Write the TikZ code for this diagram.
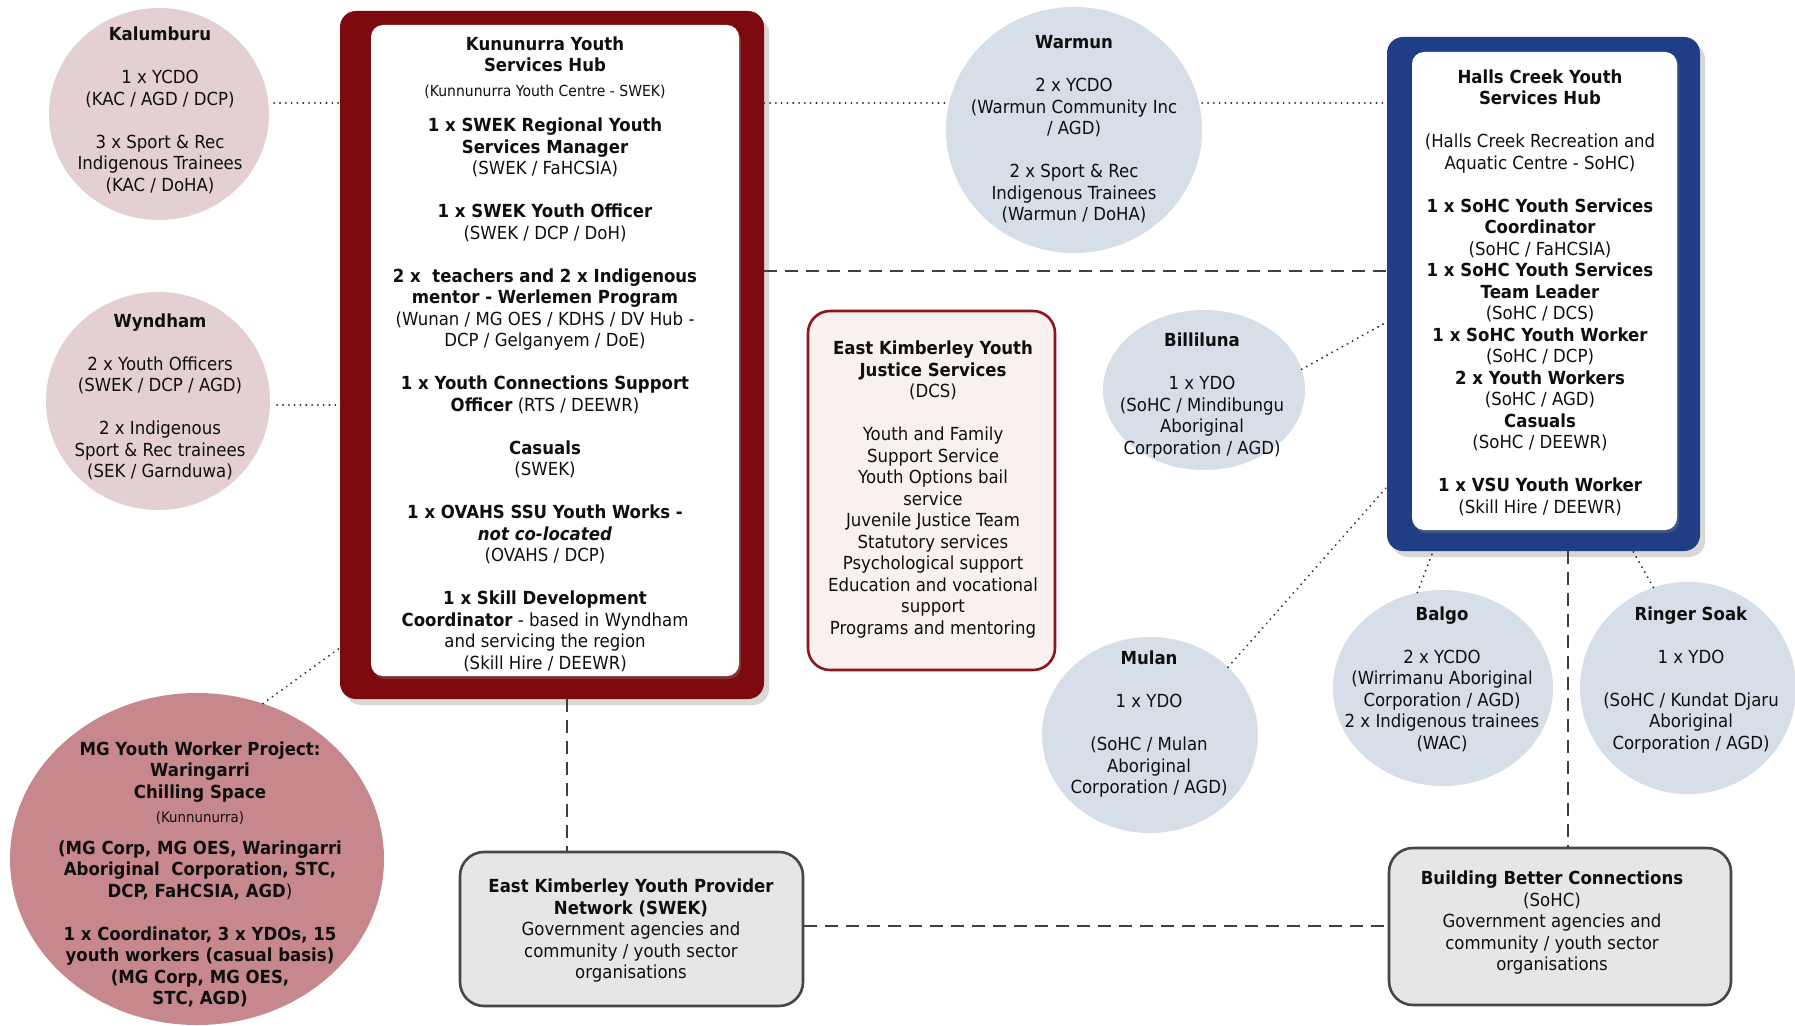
\documentclass[tikz,border=0pt]{standalone}
\usepackage{fontspec}
\setmainfont{DejaVu Sans}[FakeStretch=0.92]
\usetikzlibrary{shapes.geometric,shadows,calc}
\definecolor{kred}{RGB}{125,10,15}
\definecolor{kblue}{RGB}{31,62,133}
\definecolor{pinkell}{RGB}{228,208,210}
\definecolor{mgell}{RGB}{198,136,140}
\definecolor{blueell}{RGB}{214,222,231}
\definecolor{jusfill}{RGB}{249,240,240}
\definecolor{jusedge}{RGB}{140,22,28}
\definecolor{boxgray}{RGB}{230,230,230}
\definecolor{boxedge}{RGB}{70,70,70}
\definecolor{txtcol}{RGB}{15,15,15}
\tikzset{
  txt/.style={align=center, inner sep=0pt, anchor=north, text=txtcol,
    font=\fontsize{18}{21.5}\selectfont},
  ell/.style={ellipse, inner sep=0pt, draw=none},
  dotline/.style={line width=2.1pt, dash pattern=on 0.01pt off 5.8pt, line cap=round, draw=black!85},
  dashline/.style={line width=1.6pt, dash pattern=on 13pt off 8pt, draw=black!75},
  hubout/.style={rectangle, rounded corners=16pt, inner sep=0pt,
    drop shadow={shadow xshift=5pt, shadow yshift=-6pt, opacity=0.3}},
  hubin/.style={rectangle, rounded corners=12pt, inner sep=0pt, fill=white,
    drop shadow={shadow xshift=2pt, shadow yshift=-3pt, opacity=0.35}},
  graybox/.style={rectangle, rounded corners=24pt, inner sep=0pt, fill=boxgray, draw=boxedge, line width=2.6pt},
}
\begin{document}
\begin{tikzpicture}[x=1pt,y=-1pt]
\useasboundingbox[fill=white] (0,0) rectangle (1795,1025);

% ---------- shapes ----------
\node[hubout, fill=kred, minimum width=424pt, minimum height=688pt] (kunout) at (552,355) {};
\node[hubin, minimum width=368pt, minimum height=651pt] (kunin) at (555,350.5) {};
\node[hubout, fill=kblue, minimum width=313pt, minimum height=514pt] (hcout) at (1543.5,294) {};
\node[hubin, minimum width=265pt, minimum height=478pt] (hcin) at (1544.5,291) {};
\node[rectangle, rounded corners=22pt, inner sep=0pt, fill=jusfill, draw=jusedge, line width=2.6pt,
  minimum width=247pt, minimum height=359pt] (jus) at (931.5,490.5) {};
\node[graybox, minimum width=343pt, minimum height=154pt] (swek) at (631.5,929) {};
\node[graybox, minimum width=342pt, minimum height=157pt] (bbc) at (1560,926.5) {};

\node[ell, fill=pinkell, minimum width=220pt, minimum height=212pt] (kal) at (159,114) {};
\node[ell, fill=pinkell, minimum width=224pt, minimum height=218pt] (wyn) at (158,401) {};
\node[ell, fill=mgell, minimum width=374pt, minimum height=332pt] (mg) at (197,859) {};
\node[ell, fill=blueell, minimum width=256pt, minimum height=246pt] (war) at (1074,130) {};
\node[ell, fill=blueell, minimum width=202pt, minimum height=160pt] (bil) at (1204,390) {};
\node[ell, fill=blueell, minimum width=216pt, minimum height=196pt] (mul) at (1150,735) {};
\node[ell, fill=blueell, minimum width=220pt, minimum height=196pt] (bal) at (1443,688) {};
\node[ell, fill=blueell, minimum width=216pt, minimum height=212pt] (rin) at (1688,688) {};

% ---------- connectors ----------
\draw[dotline] ([xshift=5pt]kal.east |- 0,103) -- (kunout.west |- 0,103);
\draw[dotline] (kunout.east |- 0,103) -- (war.west |- 0,103);
\draw[dotline] (war.east |- 0,103) -- (hcout.west |- 0,103);
\draw[dotline] ([xshift=7pt]wyn.east |- 0,405) -- (kunout.west |- 0,405);
\draw[dotline] (mg.67) -- (kunout.west |- 0,648);
\draw[dashline] (kunout.east |- 0,271) -- (hcout.west |- 0,271);
\draw[dotline] (bil.12) -- (hcout.west |- 0,322);
\draw[dotline] (mul.41) -- (hcout.west |- 0,487);
\draw[dotline] (bal.105) -- (hcout.south -| 1433,0);
\draw[dotline] (rin.109) -- (hcout.south -| 1633,0);
\draw[dashline] (hcout.south -| 1568,0) -- (bbc.north -| 1568,0);
\draw[dashline] (kunout.south -| 567,0) -- (swek.north -| 567,0);
\draw[dashline] (swek.east |- 0,926) -- (bbc.west |- 0,926);

% ---------- texts ----------
\node[txt] (kalT) at (160,27) {\textbf{Kalumburu}\\[21.5pt]1 x YCDO\\(KAC / AGD / DCP)\\[21.5pt]3 x Sport \& Rec\\Indigenous Trainees\\(KAC / DoHA)};

\node[txt] (wynT) at (160,313.5) {\textbf{Wyndham}\\[21.5pt]2 x Youth Officers\\(SWEK / DCP / AGD)\\[21.5pt]2 x Indigenous\\Sport \& Rec trainees\\(SEK / Garnduwa)};

\node[txt] (mgT) at (200,741.5) {\textbf{MG Youth Worker Project:}\\\textbf{Waringarri}\\\textbf{Chilling Space}\\[2.5pt]{\fontsize{14.5}{21.5}\selectfont (Kunnunurra)}\\[10.5pt]\textbf{(MG Corp, MG OES, Waringarri}\\\textbf{Aboriginal~ Corporation, STC,}\\\textbf{DCP, FaHCSIA, AGD})\\[21.5pt]\textbf{1 x Coordinator, 3 x YDOs, 15}\\\textbf{youth workers (casual basis)}\\\textbf{(MG Corp, MG OES,}\\\textbf{STC, AGD)}};

\node[txt] (kunT) at (545,36.5) {\textbf{Kununurra Youth}\\\textbf{Services Hub}\\[3.5pt]{\fontsize{15.2}{21.5}\selectfont (Kunnunurra Youth Centre - SWEK)}\\[13.5pt]\textbf{1 x SWEK Regional Youth}\\\textbf{Services Manager}\\(SWEK / FaHCSIA)\\[21.5pt]\textbf{1 x SWEK Youth Officer}\\(SWEK / DCP / DoH)\\[21.5pt]\textbf{2 x~ teachers and 2 x Indigenous}\\\textbf{mentor - Werlemen Program}\\(Wunan / MG OES / KDHS / DV Hub -\\DCP / Gelganyem / DoE)\\[21.5pt]\textbf{1 x Youth Connections Support}\\\textbf{Officer} (RTS / DEEWR)\\[21.5pt]\textbf{Casuals}\\(SWEK)\\[21.5pt]\textbf{1 x OVAHS SSU Youth Works -}\\\textbf{\itshape not co-located}\\(OVAHS / DCP)\\[21.5pt]\textbf{1 x Skill Development}\\\textbf{Coordinator} - based in Wyndham\\and servicing the region\\(Skill Hire / DEEWR)};

\node[txt] (warT) at (1074,35.5) {\textbf{Warmun}\\[21.5pt]2 x YCDO\\(Warmun Community Inc\\/ AGD)\\[21.5pt]2 x Sport \& Rec\\Indigenous Trainees\\(Warmun / DoHA)};

\node[txt] (jusT) at (933,341) {\textbf{East Kimberley Youth}\\\textbf{Justice Services}\\(DCS)\\[21.5pt]Youth and Family\\Support Service\\Youth Options bail\\service\\Juvenile Justice Team\\Statutory services\\Psychological support\\Education and vocational\\support\\Programs and mentoring};

\node[txt] (bilT) at (1202,333) {\textbf{Billiluna}\\[21.5pt]1 x YDO\\(SoHC / Mindibungu\\Aboriginal\\Corporation / AGD)};

\node[txt] (mulT) at (1149,651) {\textbf{Mulan}\\[21.5pt]1 x YDO\\[21.5pt](SoHC / Mulan\\Aboriginal\\Corporation / AGD)};

\node[txt] (balT) at (1442,606.5) {\textbf{Balgo}\\[21.5pt]2 x YCDO\\(Wirrimanu Aboriginal\\Corporation / AGD)\\2 x Indigenous trainees\\(WAC)};

\node[txt] (rinT) at (1691,606.5) {\textbf{Ringer Soak}\\[21.5pt]1 x YDO\\[21.5pt](SoHC / Kundat Djaru\\Aboriginal\\Corporation / AGD)};

\node[txt] (hcT) at (1540,69.5) {\textbf{Halls Creek Youth}\\\textbf{Services Hub}\\[21.5pt](Halls Creek Recreation and\\Aquatic Centre - SoHC)\\[21.5pt]\textbf{1 x SoHC Youth Services}\\\textbf{Coordinator}\\(SoHC / FaHCSIA)\\\textbf{1 x SoHC Youth Services}\\\textbf{Team Leader}\\(SoHC / DCS)\\\textbf{1 x SoHC Youth Worker}\\(SoHC / DCP)\\\textbf{2 x Youth Workers}\\(SoHC / AGD)\\\textbf{Casuals}\\(SoHC / DEEWR)\\[21.5pt]\textbf{1 x VSU Youth Worker}\\(Skill Hire / DEEWR)};

\node[txt] (swekT) at (631,879) {\textbf{East Kimberley Youth Provider}\\\textbf{Network (SWEK)}\\Government agencies and\\community / youth sector\\organisations};

\node[txt] (bbcT) at (1552,871) {\textbf{Building Better Connections}\\(SoHC)\\Government agencies and\\community / youth sector\\organisations};
\end{tikzpicture}
\end{document}
